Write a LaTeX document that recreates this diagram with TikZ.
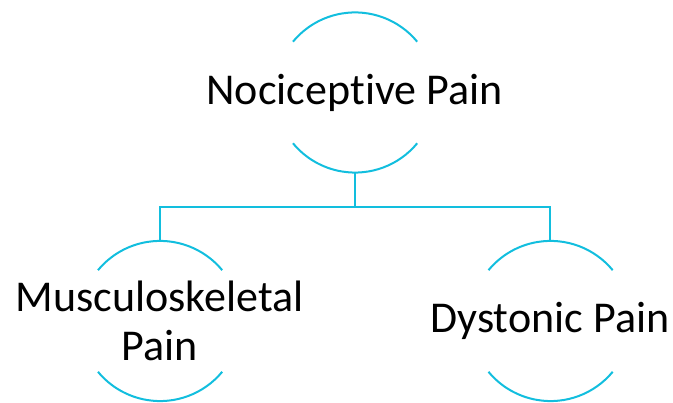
\documentclass[tikz,border=0pt]{standalone}
\usepackage{fontspec}
\setmainfont{Carlito}[Ligatures=NoCommon]
\definecolor{linecyan}{RGB}{18,190,222}
\begin{document}
\begin{tikzpicture}[x=1pt,y=1pt,
  circ/.style={circle,minimum size=161pt,inner sep=0pt},
  lbl/.style={align=center,inner sep=0pt,
    font=\fontsize{44}{48.5}\selectfont},
  conn/.style={draw=linecyan,line width=2pt},
  rim/.style={draw=linecyan,line width=2pt}]
\useasboundingbox (0,0) rectangle (673,403);
\node[circ] (np) at (354.5,310.5) {};
\node[circ] (mp) at (159.5,82) {};
\node[circ] (dp) at (550,82) {};
\node[lbl] (npt) at (np.center) {Nociceptive Pain};
\node[lbl] (mpt) at (mp.center) {Musculoskeletal\\Pain};
\node[lbl] (dpt) at (dp.center) {Dystonic Pain};
\foreach \n in {np,mp,dp}{
  \draw[rim] (\n.39.5) arc[start angle=39.5,end angle=140.5,radius=80.5pt];
  \draw[rim] (\n.-39.5) arc[start angle=-39.5,end angle=-140.5,radius=80.5pt];
}
\draw[conn] (np.south) -- ++(0,-34) coordinate (hj) -| (mp.north);
\draw[conn] (hj) -| (dp.north);
\end{tikzpicture}
\end{document}
